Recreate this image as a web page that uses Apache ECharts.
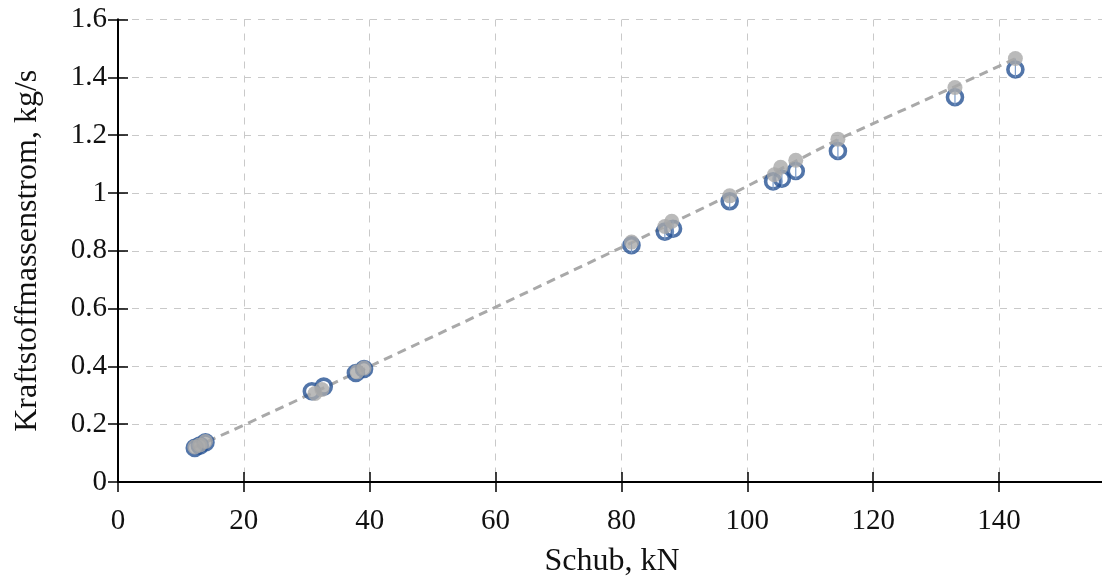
<!DOCTYPE html>
<html>
<head>
<meta charset="utf-8">
<script src="https://cdn.jsdelivr.net/npm/echarts@6/dist/echarts.min.js"></script>
<style>
  html, body { margin: 0; padding: 0; background: #ffffff; }
  #chart { width: 1102px; height: 581px; }
</style>
</head>
<body>
<div id="chart"></div>
<script>
// Thrust (kN) vs. fuel mass flow (kg/s): measured points and model values
const measuredThrust = [12.2, 13.0, 13.9, 30.8, 32.7, 37.8, 39.1, 81.6, 86.9, 88.2, 97.2, 104.1, 105.5, 107.7, 114.4, 133.0, 142.6];
const measuredFlow   = [0.118, 0.126, 0.137, 0.314, 0.330, 0.377, 0.391, 0.819, 0.866, 0.876, 0.971, 1.040, 1.049, 1.076, 1.145, 1.331, 1.427];

const modelThrust = [12.2, 13.0, 13.9, 31.3, 32.4, 38.0, 39.1, 81.6, 86.9, 88.0, 97.2, 104.3, 105.3, 107.7, 114.4, 133.0, 142.6];
const modelFlow   = [0.121, 0.128, 0.140, 0.306, 0.320, 0.381, 0.394, 0.830, 0.884, 0.902, 0.990, 1.063, 1.089, 1.113, 1.186, 1.365, 1.465];

// model curve drawn as a dashed line
const curveThrust = [12.0, 20.0, 40.0, 60.0, 82.0, 97.0, 114.5, 133.0, 142.6];
const curveFlow   = [0.118, 0.197, 0.400, 0.605, 0.832, 0.990, 1.186, 1.368, 1.465];

const yTicks = ['0', '0.2', '0.4', '0.6', '0.8', '1', '1.2', '1.4', '1.6'];

const FONT = "'Liberation Serif', 'DejaVu Serif', serif";
const BLUE = '#275394';
const GREY = '#a9a9a9';

const measured = measuredThrust.map((x, i) => [x, measuredFlow[i]]);
const model = modelThrust.map((x, i) => [x, modelFlow[i]]);
const curve = curveThrust.map((x, i) => [x, curveFlow[i]]);
const stems = measuredThrust.map((x, i) => [x, modelFlow[i], measuredFlow[i]]);

const chart = echarts.init(document.getElementById('chart'), null, { renderer: 'canvas' });

const axisLineStyle = { color: '#000', width: 2 };
const tickStyle = { show: true, inside: true, length: 10, lineStyle: { color: '#000', width: 1.5 } };
const gridLines = { show: true, lineStyle: { color: '#c9c9c9', width: 1, type: [7, 7] } };

chart.setOption({
  animation: false,
  backgroundColor: '#ffffff',
  grid: {
    left: 118, top: 19.5, width: 988, height: 462.5,
    containLabel: false, outerBoundsMode: 'none'
  },
  xAxis: [
    {
      type: 'value', min: 0, max: 157, interval: 20,
      name: 'Schub, kN', nameLocation: 'middle', nameGap: 64,
      nameTextStyle: { fontFamily: FONT, fontSize: 32, color: '#111' },
      axisLine: { show: true, lineStyle: axisLineStyle },
      axisTick: tickStyle,
      axisLabel: {
        fontFamily: FONT, fontSize: 29, color: '#111', margin: 25,
        formatter: v => (v % 20 === 0 && v <= 140) ? String(v) : ''
      },
      splitLine: gridLines
    },
    {
      type: 'value', position: 'top', min: 0, max: 157, interval: 20,
      axisLine: { show: true, lineStyle: axisLineStyle },
      axisTick: tickStyle, axisLabel: { show: false }, splitLine: { show: false }
    }
  ],
  yAxis: [
    {
      type: 'value', min: 0, max: 1.6, interval: 0.2,
      name: 'Kraftstoffmassenstrom, kg/s', nameLocation: 'middle', nameGap: 74, nameRotate: 90,
      nameTextStyle: { fontFamily: FONT, fontSize: 32, color: '#111' },
      axisLine: { show: true, lineStyle: axisLineStyle },
      axisTick: tickStyle,
      axisLabel: {
        fontFamily: FONT, fontSize: 29, color: '#111', margin: 11,
        formatter: v => yTicks[Math.round(v / 0.2)]
      },
      splitLine: gridLines
    },
    {
      type: 'value', position: 'right', min: 0, max: 1.6, interval: 0.2,
      axisLine: { show: true, lineStyle: axisLineStyle },
      axisTick: tickStyle, axisLabel: { show: false }, splitLine: { show: false }
    }
  ],
  series: [
    {
      name: 'Modellkurve', type: 'line', data: curve, showSymbol: false, symbol: 'none',
      lineStyle: { color: GREY, width: 3, type: [9, 6] }, z: 2
    },
    {
      name: 'Messung', type: 'scatter', data: measured,
      symbol: 'circle', symbolSize: 15,
      itemStyle: { color: 'rgba(0,0,0,0)', borderColor: BLUE, borderWidth: 3.6 }, z: 3
    },
    {
      // thin marker from model value down through the measured ring
      name: 'Abweichung', type: 'custom', data: stems, z: 4,
      renderItem: (params, api) => {
        const top = api.coord([api.value(0), api.value(1)]);
        const bot = api.coord([api.value(0), api.value(2)]);
        if (bot[1] - top[1] < 3) return null;
        return {
          type: 'line',
          shape: { x1: top[0], y1: top[1], x2: bot[0], y2: bot[1] + 8 },
          style: { stroke: '#7c9cc8', lineWidth: 1.2 }
        };
      }
    },
    {
      name: 'Modell', type: 'scatter', data: model,
      symbol: 'circle', symbolSize: 15,
      itemStyle: { color: GREY }, z: 5
    }
  ]
});
</script>
</body>
</html>
